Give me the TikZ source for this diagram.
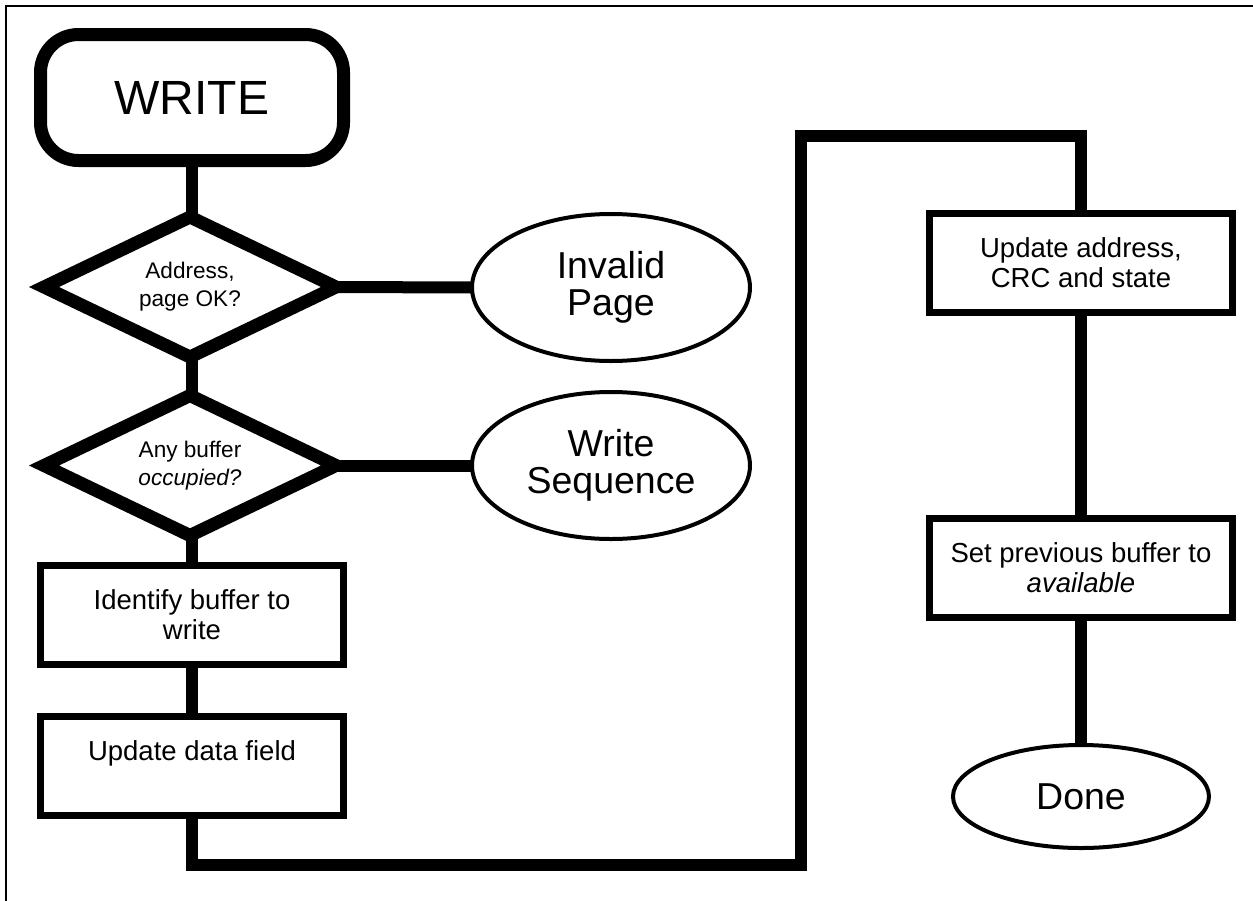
\documentclass[tikz,border=0pt]{standalone}
\usepackage{fontspec}
\setmainfont{Liberation Sans}
\usetikzlibrary{shapes.geometric}
\begin{document}
\begin{tikzpicture}[x=1pt,y=-1pt,
  every node/.style={outer sep=0pt},
  conn/.style={line width=12pt, line join=miter},
  term/.style={draw, line width=13pt, rounded corners=38pt, minimum width=303pt, minimum height=126pt, inner sep=0pt, font=\fontsize{48}{56}\selectfont},
  decision/.style={draw, diamond, line width=13pt, line join=miter, aspect=2.08, minimum width=292pt, minimum height=140pt, inner sep=0pt, align=center, font=\fontsize{22.6}{28}\selectfont},
  outcome/.style={draw, fill=white, ellipse, line width=4pt, inner sep=0pt, align=center, font=\fontsize{37.5}{37}\selectfont},
  stepbox/.style={draw, line width=7pt, line join=miter, minimum width=303pt, minimum height=99pt, inner sep=0pt, align=center, font=\fontsize{27.5}{30}\selectfont},
]
\useasboundingbox (0,0) rectangle (1253,900);
\draw[line width=2pt] (5.5,5.5) rectangle (1275,925);

\node[term] (write) at (192,97.5) {WRITE};
\node[decision] (d1) at (190,287) {Address,\\page OK?};
\node[decision] (d2) at (190,465.5) {Any buffer\\\textit{occupied?}};
\node[outcome, minimum width=278pt, minimum height=147pt] (e1) at (611,287.5) {Invalid\\Page};
\node[outcome, minimum width=278pt, minimum height=147pt] (e2) at (611,465.5) {Write\\Sequence};
\node[stepbox] (b1) at (192,615) {Identify buffer to\\write};
\node[stepbox] (b2) at (192,765.5) {Update data field\\\mbox{}};
\node[stepbox] (b3) at (1081,262.5) {Update address,\\CRC and state};
\node[stepbox] (b4) at (1081,567.5) {Set previous buffer to\\\textit{available}};
\node[outcome, minimum width=256pt, minimum height=103pt] (done) at (1081,796.5) {Done};

\coordinate (p1) at (192,865);
\coordinate (p2) at (801,865);
\coordinate (p3) at (801,136);
\coordinate (p4) at (1081,136);

\draw[conn] (write.south) -- (write.south |- d1.north);
\draw[conn] (d1.east) -- (e1.west);
\draw[conn] (b1.north |- d1.south) -- (b1.north |- d2.north);
\draw[conn] (d2.east) -- (e2.west);
\draw[conn] (b1.north |- d2.south) -- (b1.north);
\draw[conn] (b1.south) -- (b2.north);
\draw[conn] (b2.south) -- (p1) -- (p2) -- (p3) -- (p4) -- (b3.north);
\draw[conn] (b3.south) -- (b4.north);
\draw[conn] (b4.south) -- (done.north);
\end{tikzpicture}
\end{document}
